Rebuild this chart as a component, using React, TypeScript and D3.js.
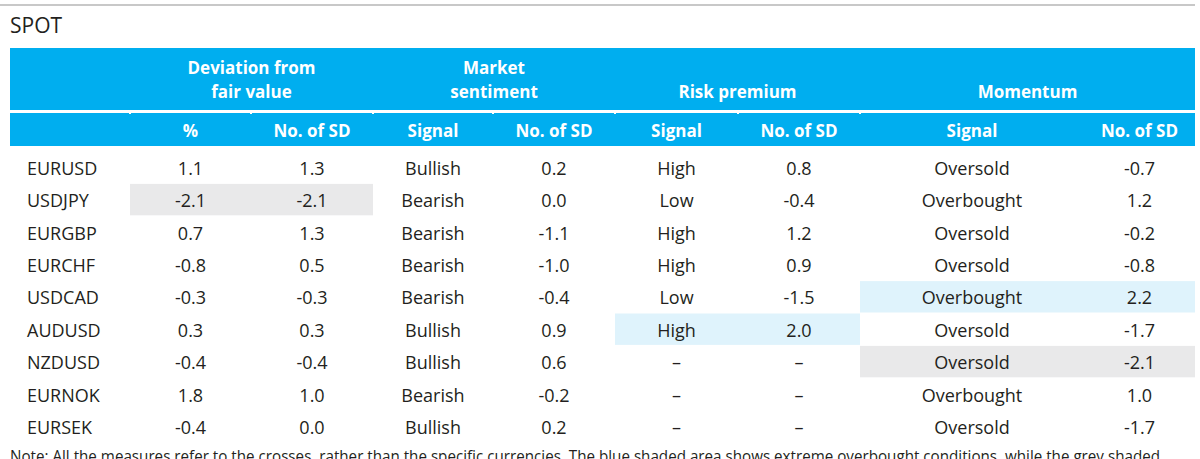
import React from "react";
import * as d3 from "d3";

const pairs = ["EURUSD", "USDJPY", "EURGBP", "EURCHF", "USDCAD", "AUDUSD", "NZDUSD", "EURNOK", "EURSEK"];
const devPct = [1.1, -2.1, 0.7, -0.8, -0.3, 0.3, -0.4, 1.8, -0.4];
const devSD = [1.3, -2.1, 1.3, 0.5, -0.3, 0.3, -0.4, 1.0, 0.0];
const sentSignal = ["Bullish", "Bearish", "Bearish", "Bearish", "Bearish", "Bullish", "Bullish", "Bearish", "Bullish"];
const sentSD = [0.2, 0.0, -1.1, -1.0, -0.4, 0.9, 0.6, -0.2, 0.2];
const riskSignal = ["High", "Low", "High", "High", "Low", "High", null, null, null];
const riskSD = [0.8, -0.4, 1.2, 0.9, -1.5, 2.0, null, null, null];
const momSignal = ["Oversold", "Overbought", "Oversold", "Oversold", "Overbought", "Oversold", "Oversold", "Overbought", "Oversold"];
const momSD = [-0.7, 1.2, -0.2, -0.8, 2.2, -1.7, -2.1, 1.0, -1.7];

const groupHeaders = [
  { lines: ["Deviation from", "fair value"], from: 1, to: 3 },
  { lines: ["Market", "sentiment"], from: 3, to: 5 },
  { lines: ["Risk premium"], from: 5, to: 7 },
  { lines: ["Momentum"], from: 7, to: 9 },
];
const subHeaders = ["", "%", "No. of SD", "Signal", "No. of SD", "Signal", "No. of SD", "Signal", "No. of SD"];

// shading: [row, fromCol, toCol, kind]
const shades: [number, number, number, string][] = [
  [1, 1, 3, "grey"],
  [4, 7, 9, "blue"],
  [5, 5, 7, "blue"],
  [6, 7, 9, "grey"],
];

const noteText =
  "Note: All the measures refer to the crosses, rather than the specific currencies. The blue shaded area shows extreme overbought conditions, while the grey shaded";

const colEdges = [10, 130, 251, 373, 493, 615, 738, 860, 1084, 1195];
const FONT = "'Open Sans', 'Noto Sans', sans-serif";
const TEXT = "#231f20";
const HEAD = "#00aeef";

const fmt = d3.format(".1f");
const num = (v: number | null) => (v == null ? "–" : fmt(v).replace("−", "-"));
const str = (v: string | null) => (v == null ? "–" : v);

export default function App() {
  const y = d3.scaleBand<number>().domain(d3.range(pairs.length)).range([151, 151 + 32.4 * pairs.length]);
  const cx = (c: number) => (colEdges[c] + colEdges[c + 1]) / 2;
  const columns: string[][] = [
    pairs,
    devPct.map(num),
    devSD.map(num),
    sentSignal.map(str),
    sentSD.map(num),
    riskSignal.map(str),
    riskSD.map(num),
    momSignal.map(str),
    momSD.map(num),
  ];
  return (
    <svg width={1200} height={459} style={{ position: "absolute", left: 0, top: 0 }}>
      <rect x={0} y={0} width={1200} height={459} fill="#fff" />
      <line x1={0} x2={1195} y1={5} y2={5} stroke="#c8c8c8" strokeWidth={2} />
      <text x={10} y={33} fontFamily={FONT} fontSize={21} fill={TEXT}>SPOT</text>
      <rect x={colEdges[0]} y={48} width={colEdges[9] - colEdges[0]} height={62} fill={HEAD} />
      <rect x={colEdges[0]} y={113} width={colEdges[9] - colEdges[0]} height={33} fill={HEAD} />
      {colEdges.slice(1, 8).map((x, i) => (
        <rect key={i} x={x - 1} y={112} width={2} height={2} fill="#fff" />
      ))}
      {groupHeaders.map((g, i) => {
        const x = (colEdges[g.from] + colEdges[g.to]) / 2;
        const base = 98;
        return (
          <text key={i} x={x} textAnchor="middle" fontFamily={FONT} fontWeight={700} fontSize={17} fill="#fff">
            {g.lines.map((l, j) => (
              <tspan key={j} x={x} y={base - (g.lines.length - 1 - j) * 24}>{l}</tspan>
            ))}
          </text>
        );
      })}
      {subHeaders.map((s, c) => (
        <text key={c} x={cx(c)} y={137} textAnchor="middle" fontFamily={FONT} fontWeight={700} fontSize={17} fill="#fff">{s}</text>
      ))}
      {shades.map(([r, a, b, k], i) => (
        <rect key={i} x={colEdges[a]} y={y(r)! + 0.5} width={colEdges[b] - colEdges[a]} height={y.bandwidth() - 1}
          fill={k === "blue" ? "#dff3fc" : "#e9e9ea"} />
      ))}
      {columns.map((col, c) =>
        col.map((v, r) => (
          <text key={c + "-" + r} x={c === 0 ? 27 : cx(c)} y={y(r)! + y.bandwidth() / 2 + 7.5}
            textAnchor={c === 0 ? "start" : "middle"} fontFamily={FONT} fontSize={18} fill={TEXT}>{v}</text>
        ))
      )}
      <text x={10} y={462} fontFamily={FONT} fontSize={16.5} fill={TEXT} textLength={1150} lengthAdjust="spacingAndGlyphs">{noteText}</text>
    </svg>
  );
}
